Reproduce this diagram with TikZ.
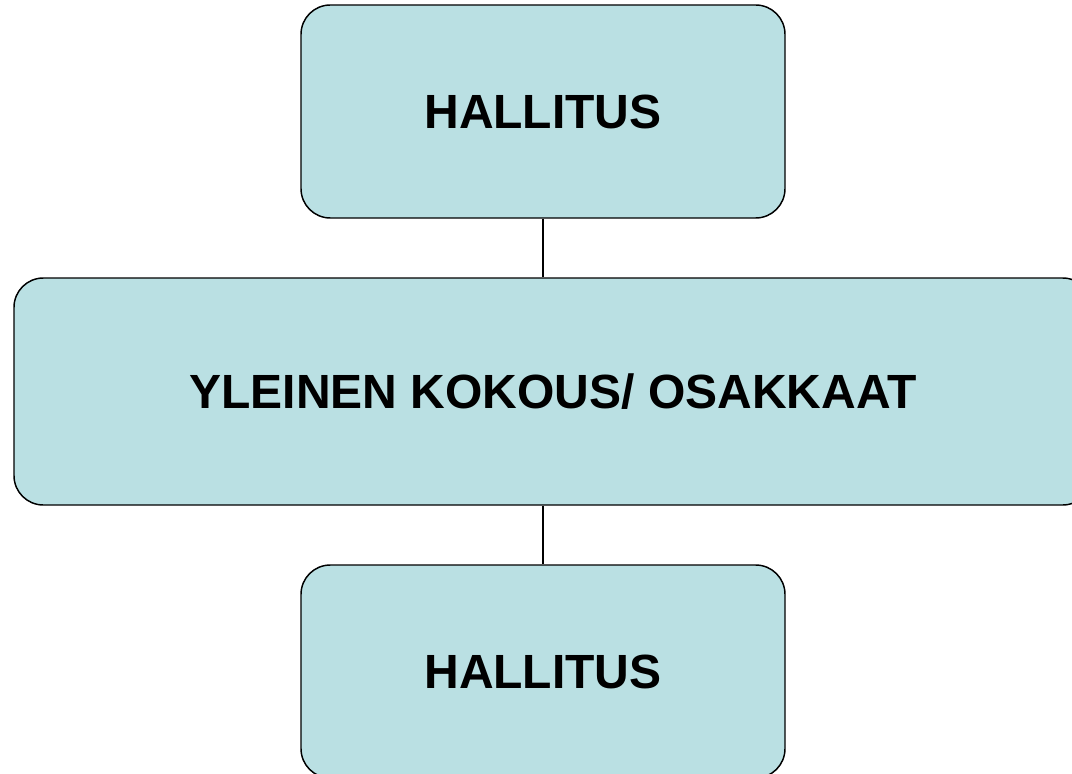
\documentclass[tikz,border=0pt]{standalone}
\usepackage{fontspec}
\setmainfont{Liberation Sans}
\usepackage{tikz}

\definecolor{boxblue}{RGB}{186,224,227}

\begin{document}
\begin{tikzpicture}[x=0.75pt, y=-0.75pt,
    orgbox/.style={draw=black, line width=1.1pt, fill=boxblue, rounded corners=22pt,
      font=\fontsize{36}{40}\selectfont\bfseries, inner sep=0pt}]
      \useasboundingbox (0, 0) rectangle (1072, 774);
      \node[orgbox, minimum width=363pt, minimum height=159.75pt] (top) at (543, 111.5) {HALLITUS};
      \node[orgbox, minimum width=808.5pt, minimum height=170.25pt] (mid) at (553, 391.5) {YLEINEN KOKOUS/ OSAKKAAT};
      \node[orgbox, minimum width=363pt, minimum height=159.75pt] (bot) at (543, 671.5) {HALLITUS};
      \draw[line width=0.9pt] (top.south) -- (top.south |- mid.north);
      \draw[line width=0.9pt] (bot.north |- mid.south) -- (bot.north);
    \end{tikzpicture}
\end{document}
